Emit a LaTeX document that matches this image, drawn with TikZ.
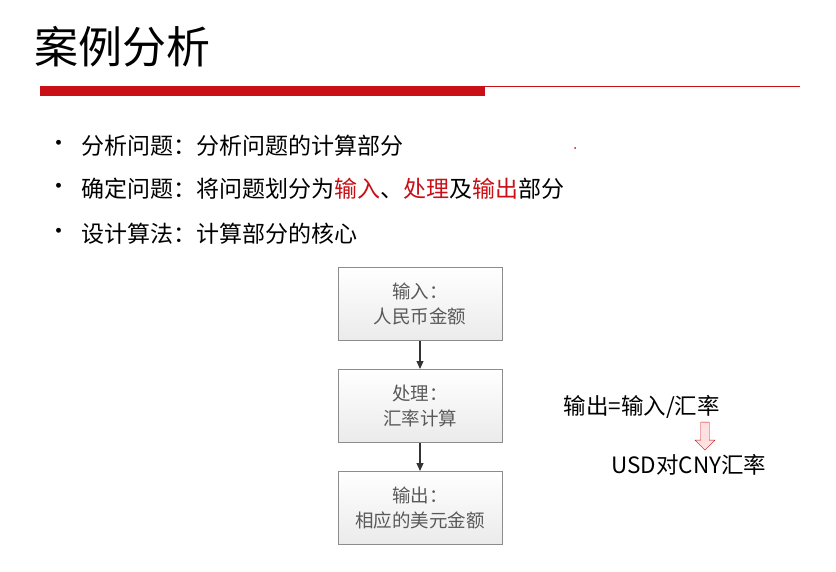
\documentclass[tikz,border=0pt]{standalone}
\usepackage{fontspec}
\setmainfont{Noto Sans CJK SC}
\usetikzlibrary{arrows.meta,shapes.arrows}
\definecolor{redbar}{RGB}{200,16,22}
\definecolor{boxgray}{RGB}{140,140,140}
\definecolor{txtgray}{RGB}{89,89,89}
\tikzset{
  flowbox/.style={draw=boxgray,line width=1pt,top color=white,bottom color=black!8,minimum width=164pt,minimum height=73pt,align=center,text=txtgray,font=\fontsize{18.5}{25}\selectfont},
  bul/.style={anchor=west,font=\fontsize{23}{28}\selectfont},
  flowarrow/.style={-{Triangle[length=8pt,width=7pt]},line width=1.2pt,draw=black!80}
}
\begin{document}
\begin{tikzpicture}[x=1pt,y=-1pt]
\useasboundingbox (0,0) rectangle (836,572);
\node[anchor=west,font=\fontsize{44}{48}\selectfont] (title) at (31,47) {案例分析};
\fill[redbar] (40,86) rectangle (485,96);
\draw[redbar,line width=1pt] (485,87) -- (800,87);
\node[bul] (b1d) at (44,146) {•};
\node[bul] (b1) at (78,146) {分析问题：分析问题的计算部分};
\node[bul] (b2d) at (44,189) {•};
\node[bul] (b2) at (78,189) {确定问题：将问题划分为\textcolor{redbar}{输入}、\textcolor{redbar}{处理}及\textcolor{redbar}{输出}部分};
\node[bul] (b3d) at (44,234) {•};
\node[bul] (b3) at (78,234) {设计算法：计算部分的核心};
\fill[redbar] (575,148) circle (1pt);
\node[flowbox] (in) at (420,304) {输入：\\人民币金额};
\node[flowbox] (proc) at (420,406) {处理：\\汇率计算};
\node[flowbox] (out) at (420,508) {输出：\\相应的美元金额};
\draw[flowarrow] (in) -- (proc);
\draw[flowarrow] (proc) -- (out);
\node[anchor=west,font=\fontsize{22.5}{26}\selectfont] (f1) at (560,407) {输出=输入/汇率};
\node[anchor=west,font=\fontsize{22.5}{26}\selectfont] (f2) at (608,465) {USD对CNY汇率};
\node[single arrow,shape border rotate=270,draw=redbar,fill=red!12,minimum width=20pt,minimum height=28pt,single arrow head extend=3pt,inner sep=2pt] (ar) at (705,434) {};
\end{tikzpicture}
\end{document}
